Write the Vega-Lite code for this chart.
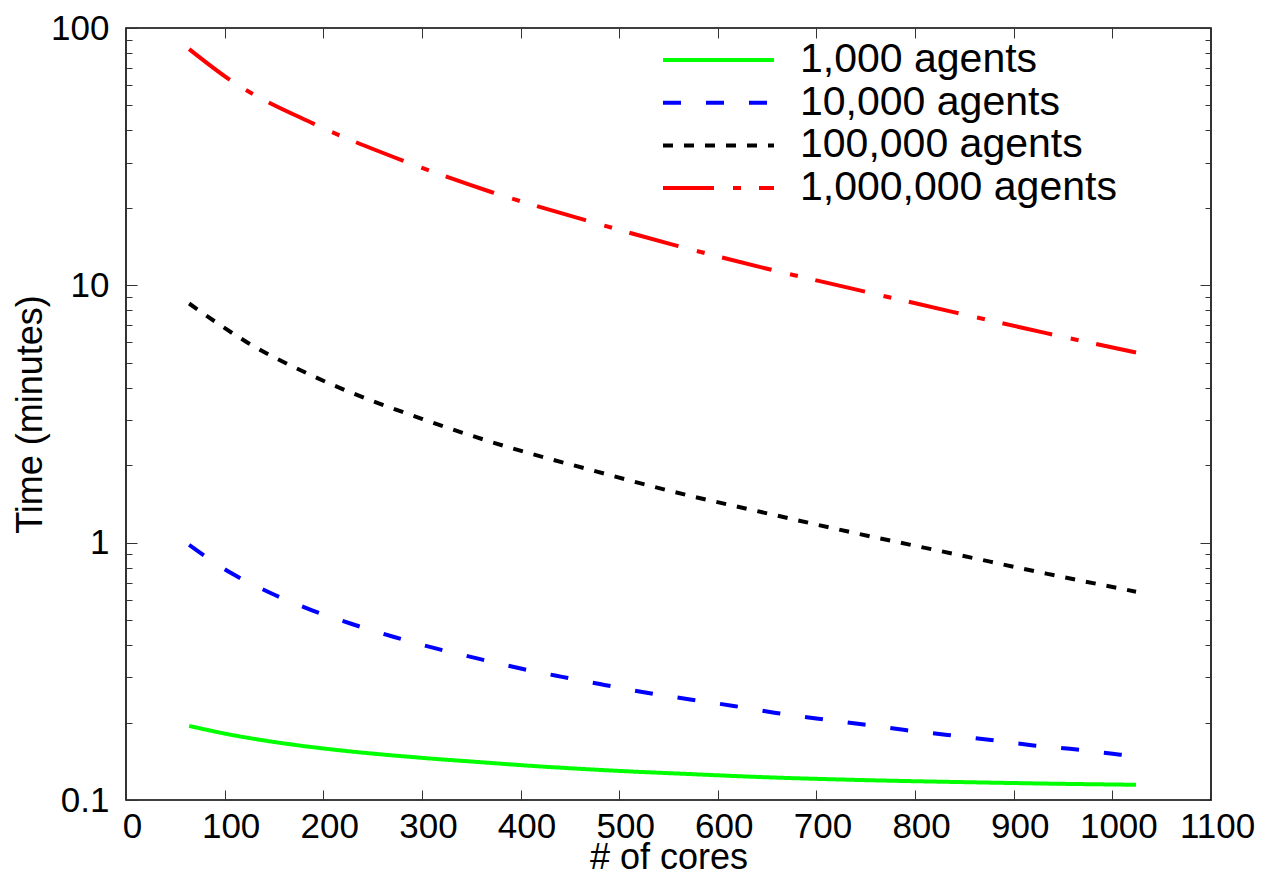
{
  "$schema": "https://vega.github.io/schema/vega-lite/v6.json",
  "autosize": {"type": "none"},
  "width": 1085,
  "height": 772,
  "padding": {"left": 126, "top": 28, "right": 50, "bottom": 76},
  "background": "white",
  "config": {
    "view": {"stroke": "#000000", "strokeWidth": 1.6},
    "font": "Liberation Sans",
    "axis": {"grid": false, "domain": false, "tickColor": "#333333", "tickWidth": 1, "labelColor": "#000000", "titleColor": "#000000", "labelFont": "Liberation Sans", "titleFont": "Liberation Sans", "titleFontWeight": "normal"}
  },
  "data": {"values": [
    {"series": "1,000 agents", "cores": 64, "time": 0.194},
    {"series": "1,000 agents", "cores": 106, "time": 0.1794},
    {"series": "1,000 agents", "cores": 156, "time": 0.1668},
    {"series": "1,000 agents", "cores": 207, "time": 0.1575},
    {"series": "1,000 agents", "cores": 258, "time": 0.1505},
    {"series": "1,000 agents", "cores": 308, "time": 0.145},
    {"series": "1,000 agents", "cores": 359, "time": 0.1403},
    {"series": "1,000 agents", "cores": 410, "time": 0.1358},
    {"series": "1,000 agents", "cores": 460, "time": 0.1322},
    {"series": "1,000 agents", "cores": 511, "time": 0.1291},
    {"series": "1,000 agents", "cores": 562, "time": 0.1266},
    {"series": "1,000 agents", "cores": 643, "time": 0.1228},
    {"series": "1,000 agents", "cores": 744, "time": 0.1196},
    {"series": "1,000 agents", "cores": 846, "time": 0.1174},
    {"series": "1,000 agents", "cores": 947, "time": 0.1156},
    {"series": "1,000 agents", "cores": 1024, "time": 0.1146},

    {"series": "10,000 agents", "cores": 64, "time": 0.98},
    {"series": "10,000 agents", "cores": 107, "time": 0.76},
    {"series": "10,000 agents", "cores": 146, "time": 0.639},
    {"series": "10,000 agents", "cores": 188, "time": 0.547},
    {"series": "10,000 agents", "cores": 229, "time": 0.483},
    {"series": "10,000 agents", "cores": 271, "time": 0.431},
    {"series": "10,000 agents", "cores": 313, "time": 0.389},
    {"series": "10,000 agents", "cores": 356, "time": 0.355},
    {"series": "10,000 agents", "cores": 399, "time": 0.325},
    {"series": "10,000 agents", "cores": 442, "time": 0.301},
    {"series": "10,000 agents", "cores": 485, "time": 0.280},
    {"series": "10,000 agents", "cores": 528, "time": 0.261},
    {"series": "10,000 agents", "cores": 572, "time": 0.246},
    {"series": "10,000 agents", "cores": 616, "time": 0.232},
    {"series": "10,000 agents", "cores": 659, "time": 0.218},
    {"series": "10,000 agents", "cores": 702, "time": 0.207},
    {"series": "10,000 agents", "cores": 746, "time": 0.197},
    {"series": "10,000 agents", "cores": 790, "time": 0.187},
    {"series": "10,000 agents", "cores": 833, "time": 0.179},
    {"series": "10,000 agents", "cores": 877, "time": 0.171},
    {"series": "10,000 agents", "cores": 920, "time": 0.163},
    {"series": "10,000 agents", "cores": 964, "time": 0.157},
    {"series": "10,000 agents", "cores": 1008, "time": 0.150},
    {"series": "10,000 agents", "cores": 1024, "time": 0.148},

    {"series": "100,000 agents", "cores": 64, "time": 8.5},
    {"series": "100,000 agents", "cores": 123, "time": 6.0},
    {"series": "100,000 agents", "cores": 200, "time": 4.26},
    {"series": "100,000 agents", "cores": 303, "time": 3.0},
    {"series": "100,000 agents", "cores": 386, "time": 2.36},
    {"series": "100,000 agents", "cores": 464, "time": 1.95},
    {"series": "100,000 agents", "cores": 557, "time": 1.57},
    {"series": "100,000 agents", "cores": 650, "time": 1.30},
    {"series": "100,000 agents", "cores": 734, "time": 1.10},
    {"series": "100,000 agents", "cores": 839, "time": 0.905},
    {"series": "100,000 agents", "cores": 933, "time": 0.758},
    {"series": "100,000 agents", "cores": 1024, "time": 0.645},

    {"series": "1,000,000 agents", "cores": 64, "time": 82.8},
    {"series": "1,000,000 agents", "cores": 105, "time": 63.0},
    {"series": "1,000,000 agents", "cores": 190, "time": 42.5},
    {"series": "1,000,000 agents", "cores": 280, "time": 30.6},
    {"series": "1,000,000 agents", "cores": 371, "time": 23.0},
    {"series": "1,000,000 agents", "cores": 464, "time": 18.0},
    {"series": "1,000,000 agents", "cores": 557, "time": 14.3},
    {"series": "1,000,000 agents", "cores": 650, "time": 11.6},
    {"series": "1,000,000 agents", "cores": 734, "time": 9.75},
    {"series": "1,000,000 agents", "cores": 839, "time": 7.87},
    {"series": "1,000,000 agents", "cores": 933, "time": 6.52},
    {"series": "1,000,000 agents", "cores": 1024, "time": 5.48}
  ]},
  "resolve": {"axis": {"x": "independent", "y": "independent"}},
  "layer": [
    {
      "mark": {"type": "line", "strokeWidth": 4, "interpolate": "monotone"},
      "encoding": {
        "x": {"field": "cores", "type": "quantitative",
          "scale": {"domain": [0, 1100], "nice": false, "zero": false},
          "axis": {"orient": "bottom", "values": [0,100,200,300,400,500,600,700,800,900,1000,1100], "tickSize": -10, "labelFontSize": 35, "labelPadding": 19, "labelOffset": 6, "labelFlush": false, "labelOverlap": false, "labelExpr": "'' + datum.value", "title": "# of cores", "titleFontSize": 36, "titlePadding": 0, "titleBaseline": "alphabetic", "titleY": 68}},
        "y": {"field": "time", "type": "quantitative",
          "scale": {"type": "log", "domain": [0.1, 100], "nice": false},
          "axis": {"orient": "left", "values": [0.1, 1, 10, 100], "tickSize": -11, "labelFontSize": 35, "labelPadding": 28, "labelBaseline": "middle", "labelFlush": false, "labelOverlap": false, "labelExpr": "'' + datum.value", "title": "Time (minutes)", "titleFontSize": 36, "titleAngle": -90, "titleBaseline": "alphabetic", "titleX": -85, "titleY": 386, "titleAlign": "center"}},
        "color": {"field": "series", "type": "nominal",
          "scale": {"domain": ["1,000 agents", "10,000 agents", "100,000 agents", "1,000,000 agents"], "range": ["#00ff00", "#0000ff", "#000000", "#ff0000"]},
          "legend": {"orient": "none", "legendX": 535, "legendY": 12, "title": null, "symbolType": "stroke", "symbolSize": 12321, "symbolStrokeWidth": 4, "labelFontSize": 41, "labelFont": "Liberation Sans", "labelColor": "#000000", "labelOffset": 24, "clipHeight": 40, "rowPadding": 1.7, "padding": 0, "labelLimit": 500}},
        "strokeDash": {"field": "series", "type": "nominal",
          "scale": {"domain": ["1,000 agents", "10,000 agents", "100,000 agents", "1,000,000 agents"], "range": [[1, 0], [18, 25], [10, 11], [51, 19, 8, 18]]},
          "legend": {"orient": "none", "legendX": 535, "legendY": 12, "title": null, "symbolType": "stroke", "symbolSize": 12321, "symbolStrokeWidth": 4, "labelFontSize": 41, "labelFont": "Liberation Sans", "labelColor": "#000000", "labelOffset": 24, "clipHeight": 40, "rowPadding": 1.7, "padding": 0, "labelLimit": 500}}
      }
    },
    {
      "mark": {"type": "point", "opacity": 0},
      "encoding": {
        "x": {"field": "cores", "type": "quantitative",
          "scale": {"domain": [0, 1100], "nice": false, "zero": false},
          "axis": {"orient": "top", "values": [0,100,200,300,400,500,600,700,800,900,1000,1100], "tickSize": -10, "labels": false, "title": null}},
        "y": {"field": "time", "type": "quantitative",
          "scale": {"type": "log", "domain": [0.1, 100], "nice": false},
          "axis": {"orient": "left", "values": [0.2,0.3,0.4,0.5,0.6,0.7,0.8,0.9,2,3,4,5,6,7,8,9,20,30,40,50,60,70,80,90], "tickSize": -6, "labels": false, "title": null}}
      }
    },
    {
      "mark": {"type": "point", "opacity": 0},
      "encoding": {
        "x": {"field": "cores", "type": "quantitative",
          "scale": {"domain": [0, 1100], "nice": false, "zero": false},
          "axis": null},
        "y": {"field": "time", "type": "quantitative",
          "scale": {"type": "log", "domain": [0.1, 100], "nice": false},
          "axis": {"orient": "right", "values": [0.1, 1, 10, 100], "tickSize": -11, "labels": false, "title": null}}
      }
    },
    {
      "mark": {"type": "point", "opacity": 0},
      "encoding": {
        "x": {"field": "cores", "type": "quantitative",
          "scale": {"domain": [0, 1100], "nice": false, "zero": false},
          "axis": null},
        "y": {"field": "time", "type": "quantitative",
          "scale": {"type": "log", "domain": [0.1, 100], "nice": false},
          "axis": {"orient": "right", "values": [0.2,0.3,0.4,0.5,0.6,0.7,0.8,0.9,2,3,4,5,6,7,8,9,20,30,40,50,60,70,80,90], "tickSize": -6, "labels": false, "title": null}}
      }
    }
  ]
}
